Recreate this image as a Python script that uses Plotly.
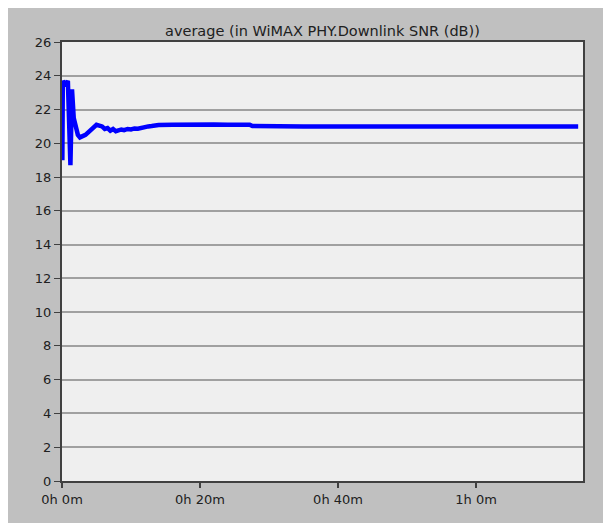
import plotly.graph_objects as go

# Time in minutes and average Downlink SNR (dB)
time_min = [0.05, 0.12, 0.5, 0.85, 1.22, 1.45, 1.7, 2.0, 2.3, 2.6, 3.0, 3.4, 3.8, 4.2, 4.6,
            5.0, 5.4, 5.8, 6.2, 6.6, 7.0, 7.4, 7.8, 8.2, 8.6, 9.0, 9.5, 10.0, 10.5, 11.0,
            11.5, 12.0, 12.5, 13.0, 14.0, 16.0, 18.0, 20.0, 22.0, 24.0, 26.0, 27.2, 27.6,
            30.0, 35.0, 40.0, 45.0, 50.0, 55.0, 60.0, 65.0, 70.0, 74.8]
snr_db = [19.0, 23.7, 23.4, 23.7, 18.7, 23.2, 21.5, 20.85, 20.5, 20.35, 20.4, 20.5, 20.65, 20.8, 20.95,
          21.1, 21.05, 21.0, 20.85, 20.9, 20.75, 20.85, 20.72, 20.8, 20.82, 20.78, 20.85, 20.82, 20.88, 20.86,
          20.92, 20.95, 21.0, 21.02, 21.08, 21.1, 21.12, 21.1, 21.12, 21.1, 21.12, 21.1, 21.02,
          21.0, 21.0, 21.0, 21.0, 21.0, 21.0, 21.0, 21.0, 21.0, 20.99]

x_tickvals = [0, 20, 40, 60]
x_ticktext = ["0h 0m", "0h 20m", "0h 40m", "1h 0m"]
title_text = "average (in WiMAX PHY.Downlink SNR (dB))"

fig = go.Figure()
fig.add_trace(go.Scatter(x=time_min, y=snr_db, mode="lines",
                         line=dict(color="#0000ff", width=4.5), showlegend=False))

FONT = "DejaVu Sans"
# page body has 8px margin; figure starts at (8, 8)
W, H = 603, 515
L, R, T, B = 54, 28, 34, 42
ph = H - T - B

fig.update_layout(
    width=W, height=H,
    margin=dict(l=L, r=R, t=T, b=B, pad=0),
    paper_bgcolor="#c0c0c0",
    plot_bgcolor="#efefef",
    font=dict(family=FONT, size=13, color="#202020"),
    annotations=[dict(text=title_text, xref="paper", yref="paper", x=0.5,
                      y=(H - B - 23) / ph, xanchor="center", yanchor="middle",
                      showarrow=False, font=dict(family=FONT, size=14.5, color="#202020"))],
    xaxis=dict(range=[0, 75.5], tickvals=x_tickvals, ticktext=x_ticktext,
               showgrid=False, zeroline=False, showline=True, mirror=True,
               linecolor="#404040", linewidth=2, ticks="outside", ticklen=5,
               tickcolor="#404040", tickwidth=2),
    yaxis=dict(range=[0, 26], dtick=2, tick0=0, showgrid=True, gridcolor="#a0a0a0",
               gridwidth=2, zeroline=False, showline=True, mirror=True,
               linecolor="#404040", linewidth=2, ticks="outside", ticklen=6,
               tickcolor="#404040", tickwidth=1),
)

fig.write_html("out.html")
